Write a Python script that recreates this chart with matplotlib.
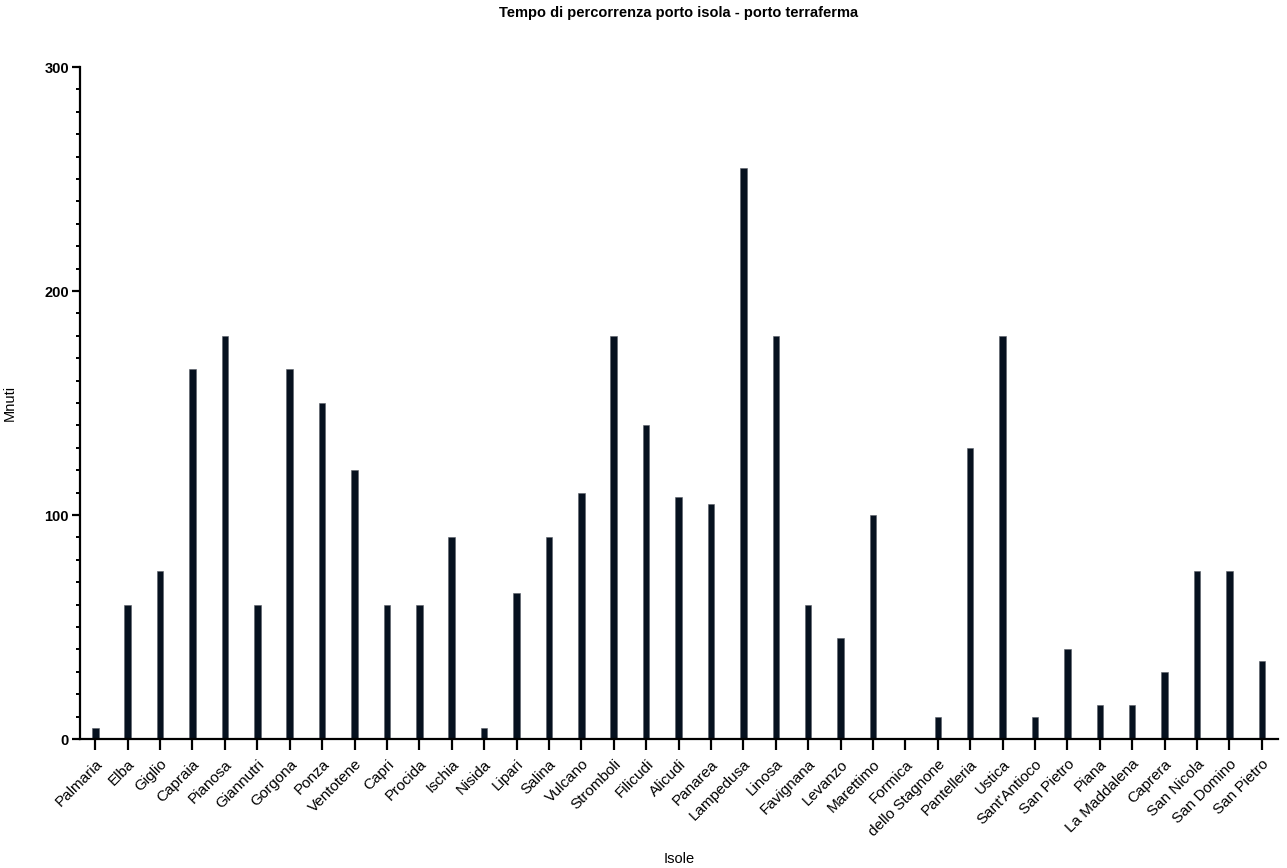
import matplotlib.pyplot as plt
from matplotlib import font_manager
from matplotlib.ticker import MultipleLocator

names = {f.name for f in font_manager.fontManager.ttflist}
family = ["Liberation Sans Narrow"] if "Liberation Sans Narrow" in names else ["Liberation Sans"]
plt.rcParams["font.family"] = family + ["DejaVu Sans"]

isole = ["Palmaria", "Elba", "Giglio", "Capraia", "Pianosa", "Giannutri", "Gorgona",
         "Ponza", "Ventotene", "Capri", "Procida", "Ischia", "Nisida", "Lipari",
         "Salina", "Vulcano", "Stromboli", "Filicudi", "Alicudi", "Panarea",
         "Lampedusa", "Linosa", "Favignana", "Levanzo", "Marettimo", "Formica",
         "dello Stagnone", "Pantelleria", "Ustica", "Sant'Antioco", "San Pietro",
         "Piana", "La Maddalena", "Caprera", "San Nicola", "San Domino", "San Pietro"]
minuti = [5, 60, 75, 165, 180, 60, 165,
          150, 120, 60, 60, 90, 5, 65,
          90, 110, 180, 140, 108, 105,
          255, 180, 60, 45, 100, 0,
          10, 130, 180, 10, 40,
          15, 15, 30, 75, 75, 35]

fig = plt.figure(figsize=(12.87, 8.68), dpi=100)
ax = fig.add_axes([0.0622, 0.1486, 0.9308, 0.7742])

x = list(range(len(isole)))
ax.bar(x, minuti, width=0.2, color="#06111f", edgecolor="#5a5f68", linewidth=0.4)

ax.set_xlim(-0.47, len(isole) - 0.5)
ax.set_ylim(0, 300)
ax.set_xticks(x)
ax.set_xticklabels(isole, rotation=45, ha="right", rotation_mode="anchor", fontsize=11)
ax.set_yticks([0, 100, 200, 300])
ax.set_yticklabels(["0", "100", "200", "300"], fontsize=10.5, fontweight="bold")
ax.yaxis.set_minor_locator(MultipleLocator(10))

for s in ["top", "right"]:
    ax.spines[s].set_visible(False)
for s in ["left", "bottom"]:
    ax.spines[s].set_linewidth(1.6)

ax.tick_params(axis="x", length=8, width=1.6, pad=5)
ax.tick_params(axis="y", which="major", length=6, width=1.6, pad=2)
ax.tick_params(axis="y", which="minor", length=3, width=1.4)

ax.set_xlabel("Isole", fontsize=10.5)
ax.xaxis.set_label_coords(0.5, -0.168)
ax.set_ylabel("Mnuti", fontsize=10.5)
ax.yaxis.set_label_coords(-0.053, 0.5)
ax.set_title("Tempo di percorrenza porto isola - porto terraferma",
             fontsize=10.5, fontweight="bold", pad=36)

fig.savefig("out.png", dpi=100)
